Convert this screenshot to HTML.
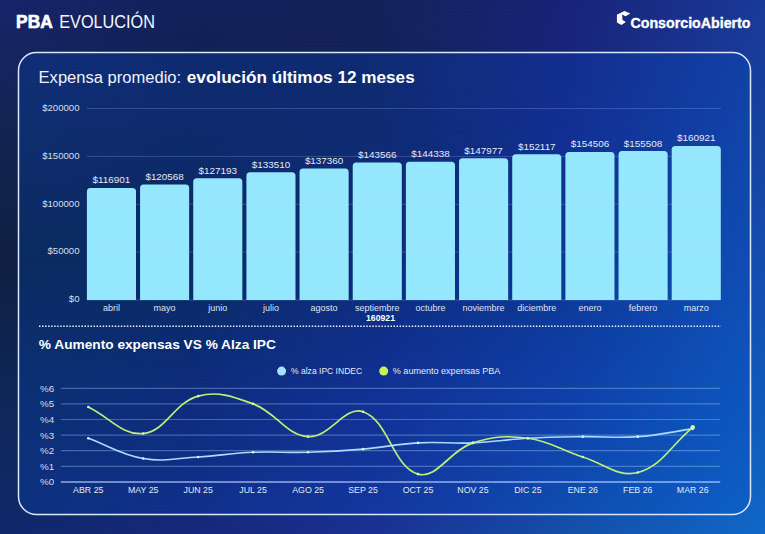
<!DOCTYPE html>
<html><head><meta charset="utf-8"><style>
html,body{margin:0;padding:0;width:765px;height:534px;overflow:hidden}
body{background:#15286a;position:relative}
.bg{position:absolute;left:0;top:0;width:765px;height:534px}
svg{position:absolute;left:0;top:0}
</style></head><body>
<div class="bg" style="background:linear-gradient(to right,rgb(24, 36, 106) 0.00%,rgb(18, 34, 90) 24.84%,rgb(20, 35, 90) 49.67%,rgb(24, 36, 120) 74.51%,rgb(26, 58, 152) 100.00%)"></div>
<div class="bg" style="background:linear-gradient(to right,rgb(19, 37, 82) 0.00%,rgb(18, 32, 80) 24.84%,rgb(19, 32, 88) 49.67%,rgb(25, 38, 130) 74.51%,rgb(22, 68, 161) 100.00%);-webkit-mask-image:linear-gradient(to bottom,transparent 0px,#000 130px);mask-image:linear-gradient(to bottom,transparent 0px,#000 130px)"></div>
<div class="bg" style="background:linear-gradient(to right,rgb(15, 32, 66) 0.00%,rgb(13, 32, 68) 24.84%,rgb(19, 32, 100) 49.67%,rgb(15, 50, 130) 74.51%,rgb(21, 78, 176) 100.00%);-webkit-mask-image:linear-gradient(to bottom,transparent 130px,#000 260px);mask-image:linear-gradient(to bottom,transparent 130px,#000 260px)"></div>
<div class="bg" style="background:linear-gradient(to right,rgb(15, 40, 88) 0.00%,rgb(18, 34, 102) 24.84%,rgb(22, 42, 133) 49.67%,rgb(20, 60, 160) 74.51%,rgb(16, 91, 187) 100.00%);-webkit-mask-image:linear-gradient(to bottom,transparent 260px,#000 400px);mask-image:linear-gradient(to bottom,transparent 260px,#000 400px)"></div>
<div class="bg" style="background:linear-gradient(to right,rgb(16, 41, 106) 0.00%,rgb(22, 40, 122) 24.84%,rgb(26, 50, 147) 49.67%,rgb(20, 80, 168) 74.51%,rgb(16, 104, 200) 100.00%);-webkit-mask-image:linear-gradient(to bottom,transparent 400px,#000 534px);mask-image:linear-gradient(to bottom,transparent 400px,#000 534px)"></div>
<svg width="765" height="534" viewBox="0 0 765 534">
<rect x="18.5" y="52.45" width="732" height="462" rx="18" ry="18" fill="rgba(0,80,210,0.22)" stroke="#dce6ff" stroke-width="1.5"/>
<text x="16.10" y="27.60" textLength="36.6" lengthAdjust="spacingAndGlyphs" style="font-family:'Liberation Sans',sans-serif;font-size:18.8px;font-weight:700;fill:#fff;stroke:#fff;stroke-width:0.7px">PBA</text>
<text x="59.20" y="27.60" textLength="95.8" lengthAdjust="spacingAndGlyphs" style="font-family:'Liberation Sans',sans-serif;font-size:18.6px;font-weight:400;fill:#f4f6ff">EVOLUCIÓN</text>
<path d="M616.9,14.7 L624.4,11.0 L630.4,13.6 L625.5,16.2 L622.1,14.6 L622.5,20.0 L625.9,22.0 L621.4,24.9 L616.9,22.6 Z" fill="#fff"/>
<text x="630.50" y="27.60" textLength="120.0" lengthAdjust="spacingAndGlyphs" style="font-family:'Liberation Sans',sans-serif;font-size:15px;font-weight:700;fill:#fff;stroke:#fff;stroke-width:0.35px">ConsorcioAbierto</text>
<text x="38.60" y="83.10" textLength="142.5" lengthAdjust="spacingAndGlyphs" style="font-family:'Liberation Sans',sans-serif;font-size:16px;font-weight:400;fill:#eef1fc">Expensa promedio:</text>
<text x="186.80" y="83.20" textLength="227.9" lengthAdjust="spacingAndGlyphs" style="font-family:'Liberation Sans',sans-serif;font-size:16.2px;font-weight:700;fill:#fff">evolución últimos 12 meses</text>
<text x="79.50" y="302.30" text-anchor="end" style="font-family:'Liberation Sans',sans-serif;font-size:9.6px;font-weight:400;fill:#d8def0">$0</text>
<text x="79.50" y="254.43" text-anchor="end" style="font-family:'Liberation Sans',sans-serif;font-size:9.6px;font-weight:400;fill:#d8def0">$50000</text>
<text x="79.50" y="206.55" text-anchor="end" style="font-family:'Liberation Sans',sans-serif;font-size:9.6px;font-weight:400;fill:#d8def0">$100000</text>
<text x="79.50" y="158.68" text-anchor="end" style="font-family:'Liberation Sans',sans-serif;font-size:9.6px;font-weight:400;fill:#d8def0">$150000</text>
<text x="79.50" y="110.80" text-anchor="end" style="font-family:'Liberation Sans',sans-serif;font-size:9.6px;font-weight:400;fill:#d8def0">$200000</text>
<path d="M86.90,300.0 L86.90,191.57 Q86.90,188.07 90.40,188.07 L132.50,188.07 Q136.00,188.07 136.00,191.57 L136.00,300.0 Z" fill="#94e7fc"/>
<text x="111.45" y="183.47" text-anchor="middle" style="font-family:'Liberation Sans',sans-serif;font-size:9.9px;font-weight:400;fill:#e4e9f6">$116901</text>
<text x="111.45" y="310.70" text-anchor="middle" style="font-family:'Liberation Sans',sans-serif;font-size:9px;font-weight:400;fill:#dfe4f3">abril</text>
<path d="M140.06,300.0 L140.06,188.06 Q140.06,184.56 143.56,184.56 L185.66,184.56 Q189.16,184.56 189.16,188.06 L189.16,300.0 Z" fill="#94e7fc"/>
<text x="164.62" y="179.96" text-anchor="middle" style="font-family:'Liberation Sans',sans-serif;font-size:9.9px;font-weight:400;fill:#e4e9f6">$120568</text>
<text x="164.62" y="310.70" text-anchor="middle" style="font-family:'Liberation Sans',sans-serif;font-size:9px;font-weight:400;fill:#dfe4f3">mayo</text>
<path d="M193.23,300.0 L193.23,181.71 Q193.23,178.21 196.73,178.21 L238.83,178.21 Q242.33,178.21 242.33,181.71 L242.33,300.0 Z" fill="#94e7fc"/>
<text x="217.78" y="173.61" text-anchor="middle" style="font-family:'Liberation Sans',sans-serif;font-size:9.9px;font-weight:400;fill:#e4e9f6">$127193</text>
<text x="217.78" y="310.70" text-anchor="middle" style="font-family:'Liberation Sans',sans-serif;font-size:9px;font-weight:400;fill:#dfe4f3">junio</text>
<path d="M246.40,300.0 L246.40,175.66 Q246.40,172.16 249.90,172.16 L292.00,172.16 Q295.50,172.16 295.50,175.66 L295.50,300.0 Z" fill="#94e7fc"/>
<text x="270.94" y="167.56" text-anchor="middle" style="font-family:'Liberation Sans',sans-serif;font-size:9.9px;font-weight:400;fill:#e4e9f6">$133510</text>
<text x="270.94" y="310.70" text-anchor="middle" style="font-family:'Liberation Sans',sans-serif;font-size:9px;font-weight:400;fill:#dfe4f3">julio</text>
<path d="M299.56,300.0 L299.56,171.98 Q299.56,168.48 303.06,168.48 L345.16,168.48 Q348.66,168.48 348.66,171.98 L348.66,300.0 Z" fill="#94e7fc"/>
<text x="324.11" y="163.88" text-anchor="middle" style="font-family:'Liberation Sans',sans-serif;font-size:9.9px;font-weight:400;fill:#e4e9f6">$137360</text>
<text x="324.11" y="310.70" text-anchor="middle" style="font-family:'Liberation Sans',sans-serif;font-size:9px;font-weight:400;fill:#dfe4f3">agosto</text>
<path d="M352.73,300.0 L352.73,166.04 Q352.73,162.54 356.23,162.54 L398.33,162.54 Q401.83,162.54 401.83,166.04 L401.83,300.0 Z" fill="#94e7fc"/>
<text x="377.28" y="157.94" text-anchor="middle" style="font-family:'Liberation Sans',sans-serif;font-size:9.9px;font-weight:400;fill:#e4e9f6">$143566</text>
<text x="377.28" y="310.70" text-anchor="middle" style="font-family:'Liberation Sans',sans-serif;font-size:9px;font-weight:400;fill:#dfe4f3">septiembre</text>
<path d="M405.89,300.0 L405.89,165.30 Q405.89,161.80 409.39,161.80 L451.49,161.80 Q454.99,161.80 454.99,165.30 L454.99,300.0 Z" fill="#94e7fc"/>
<text x="430.44" y="157.20" text-anchor="middle" style="font-family:'Liberation Sans',sans-serif;font-size:9.9px;font-weight:400;fill:#e4e9f6">$144338</text>
<text x="430.44" y="310.70" text-anchor="middle" style="font-family:'Liberation Sans',sans-serif;font-size:9px;font-weight:400;fill:#dfe4f3">octubre</text>
<path d="M459.05,300.0 L459.05,161.81 Q459.05,158.31 462.55,158.31 L504.65,158.31 Q508.15,158.31 508.15,161.81 L508.15,300.0 Z" fill="#94e7fc"/>
<text x="483.60" y="153.71" text-anchor="middle" style="font-family:'Liberation Sans',sans-serif;font-size:9.9px;font-weight:400;fill:#e4e9f6">$147977</text>
<text x="483.60" y="310.70" text-anchor="middle" style="font-family:'Liberation Sans',sans-serif;font-size:9px;font-weight:400;fill:#dfe4f3">noviembre</text>
<path d="M512.22,300.0 L512.22,157.85 Q512.22,154.35 515.72,154.35 L557.82,154.35 Q561.32,154.35 561.32,157.85 L561.32,300.0 Z" fill="#94e7fc"/>
<text x="536.77" y="149.75" text-anchor="middle" style="font-family:'Liberation Sans',sans-serif;font-size:9.9px;font-weight:400;fill:#e4e9f6">$152117</text>
<text x="536.77" y="310.70" text-anchor="middle" style="font-family:'Liberation Sans',sans-serif;font-size:9px;font-weight:400;fill:#dfe4f3">diciembre</text>
<path d="M565.38,300.0 L565.38,155.56 Q565.38,152.06 568.88,152.06 L610.99,152.06 Q614.49,152.06 614.49,155.56 L614.49,300.0 Z" fill="#94e7fc"/>
<text x="589.93" y="147.46" text-anchor="middle" style="font-family:'Liberation Sans',sans-serif;font-size:9.9px;font-weight:400;fill:#e4e9f6">$154506</text>
<text x="589.93" y="310.70" text-anchor="middle" style="font-family:'Liberation Sans',sans-serif;font-size:9px;font-weight:400;fill:#dfe4f3">enero</text>
<path d="M618.55,300.0 L618.55,154.60 Q618.55,151.10 622.05,151.10 L664.15,151.10 Q667.65,151.10 667.65,154.60 L667.65,300.0 Z" fill="#94e7fc"/>
<text x="643.10" y="146.50" text-anchor="middle" style="font-family:'Liberation Sans',sans-serif;font-size:9.9px;font-weight:400;fill:#e4e9f6">$155508</text>
<text x="643.10" y="310.70" text-anchor="middle" style="font-family:'Liberation Sans',sans-serif;font-size:9px;font-weight:400;fill:#dfe4f3">febrero</text>
<path d="M671.71,300.0 L671.71,149.42 Q671.71,145.92 675.21,145.92 L717.31,145.92 Q720.81,145.92 720.81,149.42 L720.81,300.0 Z" fill="#94e7fc"/>
<text x="696.26" y="141.32" text-anchor="middle" style="font-family:'Liberation Sans',sans-serif;font-size:9.9px;font-weight:400;fill:#e4e9f6">$160921</text>
<text x="696.26" y="310.70" text-anchor="middle" style="font-family:'Liberation Sans',sans-serif;font-size:9px;font-weight:400;fill:#dfe4f3">marzo</text>
<line x1="86.9" y1="300.00" x2="720.9" y2="300.00" stroke="rgba(200,215,255,0.22)" stroke-width="1"/>
<line x1="86.9" y1="252.12" x2="720.9" y2="252.12" stroke="rgba(200,215,255,0.22)" stroke-width="1"/>
<line x1="86.9" y1="204.25" x2="720.9" y2="204.25" stroke="rgba(200,215,255,0.22)" stroke-width="1"/>
<line x1="86.9" y1="156.38" x2="720.9" y2="156.38" stroke="rgba(200,215,255,0.22)" stroke-width="1"/>
<line x1="86.9" y1="108.50" x2="720.9" y2="108.50" stroke="rgba(200,215,255,0.22)" stroke-width="1"/>
<text x="380.50" y="321.30" text-anchor="middle" style="font-family:'Liberation Sans',sans-serif;font-size:8.7px;font-weight:700;fill:#fff">160921</text>
<line x1="39" y1="326.2" x2="721" y2="326.2" stroke="#e8eeff" stroke-width="1.5" stroke-dasharray="1.5 1.53"/>
<text x="38.80" y="349.00" textLength="237.1" lengthAdjust="spacingAndGlyphs" style="font-family:'Liberation Sans',sans-serif;font-size:13.7px;font-weight:700;fill:#fff">% Aumento expensas VS % Alza IPC</text>
<circle cx="281.6" cy="371.1" r="4.5" fill="#a6e2ff"/>
<text x="291.00" y="374.40" textLength="71.2" lengthAdjust="spacingAndGlyphs" style="font-family:'Liberation Sans',sans-serif;font-size:9px;font-weight:400;fill:#e4e9f6">% alza IPC INDEC</text>
<circle cx="383.7" cy="371.1" r="4.5" fill="#c6f35c"/>
<text x="392.80" y="374.30" textLength="107.6" lengthAdjust="spacingAndGlyphs" style="font-family:'Liberation Sans',sans-serif;font-size:9px;font-weight:400;fill:#e4e9f6">% aumento expensas PBA</text>
<line x1="60.8" y1="481.90" x2="720.2" y2="481.90" stroke="rgba(200,215,255,0.75)" stroke-width="1.5"/>
<text x="40.10" y="485.30" textLength="14.2" lengthAdjust="spacingAndGlyphs" style="font-family:'Liberation Sans',sans-serif;font-size:9.6px;font-weight:400;fill:#d8def0">%0</text>
<line x1="60.8" y1="466.30" x2="720.2" y2="466.30" stroke="rgba(200,215,255,0.33)" stroke-width="1.2"/>
<text x="40.10" y="469.70" textLength="14.2" lengthAdjust="spacingAndGlyphs" style="font-family:'Liberation Sans',sans-serif;font-size:9.6px;font-weight:400;fill:#d8def0">%1</text>
<line x1="60.8" y1="450.70" x2="720.2" y2="450.70" stroke="rgba(200,215,255,0.33)" stroke-width="1.2"/>
<text x="40.10" y="454.10" textLength="14.2" lengthAdjust="spacingAndGlyphs" style="font-family:'Liberation Sans',sans-serif;font-size:9.6px;font-weight:400;fill:#d8def0">%2</text>
<line x1="60.8" y1="435.10" x2="720.2" y2="435.10" stroke="rgba(200,215,255,0.33)" stroke-width="1.2"/>
<text x="40.10" y="438.50" textLength="14.2" lengthAdjust="spacingAndGlyphs" style="font-family:'Liberation Sans',sans-serif;font-size:9.6px;font-weight:400;fill:#d8def0">%3</text>
<line x1="60.8" y1="419.50" x2="720.2" y2="419.50" stroke="rgba(200,215,255,0.33)" stroke-width="1.2"/>
<text x="40.10" y="422.90" textLength="14.2" lengthAdjust="spacingAndGlyphs" style="font-family:'Liberation Sans',sans-serif;font-size:9.6px;font-weight:400;fill:#d8def0">%4</text>
<line x1="60.8" y1="403.90" x2="720.2" y2="403.90" stroke="rgba(200,215,255,0.33)" stroke-width="1.2"/>
<text x="40.10" y="407.30" textLength="14.2" lengthAdjust="spacingAndGlyphs" style="font-family:'Liberation Sans',sans-serif;font-size:9.6px;font-weight:400;fill:#d8def0">%5</text>
<line x1="60.8" y1="388.30" x2="720.2" y2="388.30" stroke="rgba(200,215,255,0.33)" stroke-width="1.2"/>
<text x="40.10" y="391.70" textLength="14.2" lengthAdjust="spacingAndGlyphs" style="font-family:'Liberation Sans',sans-serif;font-size:9.6px;font-weight:400;fill:#d8def0">%6</text>
<text x="88.28" y="493.40" text-anchor="middle" style="font-family:'Liberation Sans',sans-serif;font-size:8.8px;font-weight:400;fill:#e4e9f6">ABR 25</text>
<text x="143.23" y="493.40" text-anchor="middle" style="font-family:'Liberation Sans',sans-serif;font-size:8.8px;font-weight:400;fill:#e4e9f6">MAY 25</text>
<text x="198.18" y="493.40" text-anchor="middle" style="font-family:'Liberation Sans',sans-serif;font-size:8.8px;font-weight:400;fill:#e4e9f6">JUN 25</text>
<text x="253.13" y="493.40" text-anchor="middle" style="font-family:'Liberation Sans',sans-serif;font-size:8.8px;font-weight:400;fill:#e4e9f6">JUL 25</text>
<text x="308.08" y="493.40" text-anchor="middle" style="font-family:'Liberation Sans',sans-serif;font-size:8.8px;font-weight:400;fill:#e4e9f6">AGO 25</text>
<text x="363.03" y="493.40" text-anchor="middle" style="font-family:'Liberation Sans',sans-serif;font-size:8.8px;font-weight:400;fill:#e4e9f6">SEP 25</text>
<text x="417.98" y="493.40" text-anchor="middle" style="font-family:'Liberation Sans',sans-serif;font-size:8.8px;font-weight:400;fill:#e4e9f6">OCT 25</text>
<text x="472.93" y="493.40" text-anchor="middle" style="font-family:'Liberation Sans',sans-serif;font-size:8.8px;font-weight:400;fill:#e4e9f6">NOV 25</text>
<text x="527.88" y="493.40" text-anchor="middle" style="font-family:'Liberation Sans',sans-serif;font-size:8.8px;font-weight:400;fill:#e4e9f6">DIC 25</text>
<text x="582.83" y="493.40" text-anchor="middle" style="font-family:'Liberation Sans',sans-serif;font-size:8.8px;font-weight:400;fill:#e4e9f6">ENE 26</text>
<text x="637.78" y="493.40" text-anchor="middle" style="font-family:'Liberation Sans',sans-serif;font-size:8.8px;font-weight:400;fill:#e4e9f6">FEB 26</text>
<text x="692.73" y="493.40" text-anchor="middle" style="font-family:'Liberation Sans',sans-serif;font-size:8.8px;font-weight:400;fill:#e4e9f6">MAR 26</text>
<path d="M88.28,438.22 C110.26,446.33 120.55,454.64 143.23,458.50 C164.51,462.13 176.23,458.19 198.18,456.94 C220.19,455.69 231.11,453.20 253.13,452.26 C275.07,451.33 286.11,452.88 308.08,452.26 C330.07,451.64 341.10,451.01 363.03,449.14 C385.06,447.26 395.92,444.15 417.98,442.90 C439.88,441.66 450.98,443.83 472.93,442.90 C494.94,441.96 505.86,439.47 527.88,438.22 C549.82,436.97 560.84,436.97 582.83,436.66 C604.80,436.35 615.90,438.21 637.78,436.66 C659.86,435.09 670.75,431.98 692.73,428.86" fill="none" stroke="#a8dcff" stroke-width="1.6"/>
<path d="M88.28,407.02 C110.26,417.63 122.19,435.63 143.23,433.54 C166.15,431.26 174.21,402.56 198.18,396.10 C218.17,390.71 232.70,396.36 253.13,403.90 C276.66,412.59 285.45,435.05 308.08,436.66 C329.41,438.17 344.54,405.40 363.03,411.70 C388.50,420.38 393.00,467.01 417.98,474.10 C436.96,479.49 449.45,450.56 472.93,442.90 C493.41,436.21 506.46,435.48 527.88,438.22 C550.42,441.10 560.67,450.02 582.83,456.94 C604.63,463.75 618.20,477.82 637.78,472.54 C662.16,465.96 670.75,445.40 692.73,427.30" fill="none" stroke="#bdef78" stroke-width="1.7"/>
<circle cx="88.28" cy="438.22" r="1.3" fill="#d8f0ff"/>
<circle cx="143.23" cy="458.50" r="1.3" fill="#d8f0ff"/>
<circle cx="198.18" cy="456.94" r="1.3" fill="#d8f0ff"/>
<circle cx="253.13" cy="452.26" r="1.3" fill="#d8f0ff"/>
<circle cx="308.08" cy="452.26" r="1.3" fill="#d8f0ff"/>
<circle cx="363.03" cy="449.14" r="1.3" fill="#d8f0ff"/>
<circle cx="417.98" cy="442.90" r="1.3" fill="#d8f0ff"/>
<circle cx="472.93" cy="442.90" r="1.3" fill="#d8f0ff"/>
<circle cx="527.88" cy="438.22" r="1.3" fill="#d8f0ff"/>
<circle cx="582.83" cy="436.66" r="1.3" fill="#d8f0ff"/>
<circle cx="637.78" cy="436.66" r="1.3" fill="#d8f0ff"/>
<circle cx="692.73" cy="428.86" r="1.3" fill="#d8f0ff"/>
<circle cx="88.28" cy="407.02" r="1.3" fill="#d8f8a8"/>
<circle cx="143.23" cy="433.54" r="1.3" fill="#d8f8a8"/>
<circle cx="198.18" cy="396.10" r="1.3" fill="#d8f8a8"/>
<circle cx="253.13" cy="403.90" r="1.3" fill="#d8f8a8"/>
<circle cx="308.08" cy="436.66" r="1.3" fill="#d8f8a8"/>
<circle cx="363.03" cy="411.70" r="1.3" fill="#d8f8a8"/>
<circle cx="417.98" cy="474.10" r="1.3" fill="#d8f8a8"/>
<circle cx="472.93" cy="442.90" r="1.3" fill="#d8f8a8"/>
<circle cx="527.88" cy="438.22" r="1.3" fill="#d8f8a8"/>
<circle cx="582.83" cy="456.94" r="1.3" fill="#d8f8a8"/>
<circle cx="637.78" cy="472.54" r="1.3" fill="#d8f8a8"/>
<circle cx="692.73" cy="427.30" r="2.2" fill="#d8f8a8"/>
</svg>
</body></html>
